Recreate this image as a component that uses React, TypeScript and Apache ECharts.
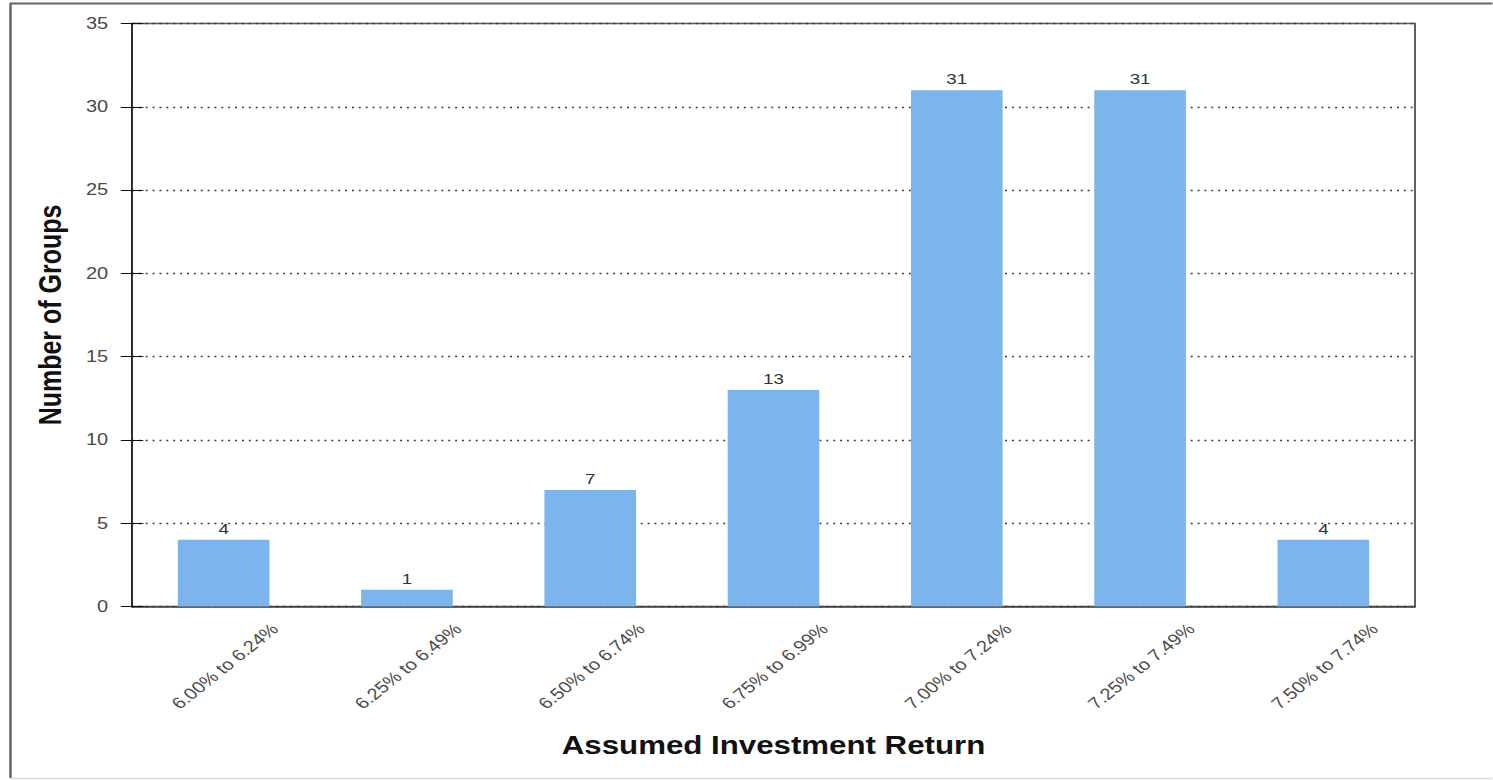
import React, { useEffect, useRef } from "react";
import * as echarts from "echarts";

// ---- data ----
const categories = [
  "6.00% to 6.24%",
  "6.25% to 6.49%",
  "6.50% to 6.74%",
  "6.75% to 6.99%",
  "7.00% to 7.24%",
  "7.25% to 7.49%",
  "7.50% to 7.74%",
];
const groupCounts = [4, 1, 7, 13, 31, 31, 4];
const yMin = 0;
const yMax = 35;
const yInterval = 5;
const xTitle = "Assumed Investment Return";
const yTitle = "Number of Groups";

// ---- layout ----
const STRETCH = 1.25;
const W = 1493 / STRETCH;
const H = 780;
const FONT = "'Liberation Sans', Arial, Helvetica, sans-serif";

const gridLeft = 105.6;
const gridRight = W - 1132;
const gridTop = 23.5;
const gridBottom = H - 606.5;
const labelShift = 41;

export default function App() {
  const ref = useRef<HTMLDivElement>(null);
  useEffect(() => {
    if (!ref.current) return;
    const chart = echarts.init(ref.current, null, { renderer: "svg", width: W, height: H });
    chart.setOption({
      animation: false,
      backgroundColor: "#ffffff",
      textStyle: { fontFamily: FONT },
      grid: [
        {
          left: gridLeft,
          right: gridRight,
          top: gridTop,
          bottom: gridBottom,
          show: true,
          borderColor: "#555",
          borderWidth: 1.5,
          backgroundColor: "transparent",
        },
        {
          left: gridLeft + labelShift,
          right: gridRight - labelShift,
          top: gridTop,
          bottom: gridBottom,
          show: false,
        },
      ],
      xAxis: [
        {
          type: "category",
          gridIndex: 0,
          data: categories,
          axisLine: { show: true, lineStyle: { color: "#444", width: 1.5 } },
          axisTick: { show: false },
          axisLabel: { show: false },
          name: xTitle,
          nameLocation: "middle",
          nameGap: 126,
          nameTextStyle: { fontSize: 25, fontWeight: "bold", color: "#111", fontFamily: FONT },
        },
        {
          type: "category",
          gridIndex: 1,
          data: categories,
          axisLine: { show: false },
          axisTick: { show: false },
          splitLine: { show: false },
          axisLabel: {
            interval: 0,
            rotate: 45,
            margin: 20,
            fontSize: 16,
            color: "#4a4a4a",
            fontFamily: FONT,
          },
        },
      ],
      yAxis: [
        {
          type: "value",
          gridIndex: 0,
          min: yMin,
          max: yMax,
          interval: yInterval,
          axisLine: { show: true, lineStyle: { color: "#111", width: 1 } },
          axisTick: { show: true, length: 9, lineStyle: { color: "#111" } },
          axisLabel: { margin: 19, fontSize: 16, color: "#4a4a4a", fontFamily: FONT },
          splitLine: { show: true, lineStyle: { type: [1.5, 4], color: "#333", width: 1.3 } },
          name: yTitle,
          nameLocation: "middle",
          nameGap: 53,
          nameTextStyle: { fontSize: 25, fontWeight: "bold", color: "#111", fontFamily: FONT },
        },
        {
          type: "value",
          gridIndex: 0,
          position: "left",
          min: yMin,
          max: yMax,
          interval: yInterval,
          axisLine: { show: false },
          axisTick: { show: true, inside: true, length: 9, lineStyle: { color: "#111" } },
          axisLabel: { show: false },
          splitLine: { show: false },
        },
        {
          type: "value",
          gridIndex: 1,
          min: yMin,
          max: yMax,
          show: false,
        },
      ],
      series: [
        {
          type: "bar",
          xAxisIndex: 0,
          yAxisIndex: 0,
          data: groupCounts,
          barWidth: "50%",
          itemStyle: { color: "#7cb5ec" },
          label: {
            show: true,
            position: "top",
            distance: 3,
            fontSize: 15,
            color: "#333",
            fontFamily: FONT,
          },
        },
      ],
      graphic: [
        {
          type: "line",
          silent: true,
          shape: { x1: 8.4, y1: 3, x2: 8.4, y2: 778 },
          style: { stroke: "#666", lineWidth: 2 },
        },
        {
          type: "line",
          silent: true,
          shape: { x1: 8, y1: 3.5, x2: W, y2: 3.5 },
          style: { stroke: "#666", lineWidth: 2 },
        },
        {
          type: "line",
          silent: true,
          shape: { x1: 8, y1: 778.5, x2: W, y2: 778.5 },
          style: { stroke: "#ddd", lineWidth: 1.5 },
        },
      ],
    });
    return () => chart.dispose();
  }, []);
  return (
    <div
      ref={ref}
      style={{
        position: "absolute",
        left: 0,
        top: 0,
        width: W,
        height: H,
        transform: `scaleX(${STRETCH})`,
        transformOrigin: "0 0",
      }}
    />
  );
}
